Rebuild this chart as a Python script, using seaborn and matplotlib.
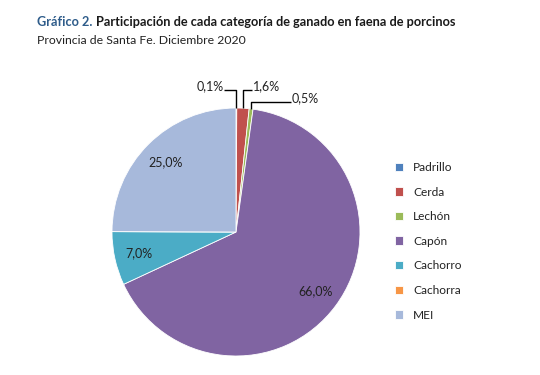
import numpy as np
import matplotlib
matplotlib.use("Agg")
import matplotlib.pyplot as plt
import seaborn as sns

categories = ["Padrillo", "Cerda", "Lechón", "Capón", "Cachorro", "Cachorra", "MEI"]
values = [0.1, 1.6, 0.5, 66.0, 7.0, 0.0, 25.0]
colors = ["#4F81BD", "#C0504D", "#9BBB59", "#8064A2", "#4BACC6", "#F79646", "#A7B9DB"]
title_prefix = "Gráfico 2."
title_rest = "Participación de cada categoría de ganado en faena de porcinos"
subtitle = "Provincia de Santa Fe. Diciembre 2020"

sns.set_theme(style="white")
plt.rcParams["font.family"] = ["Lato", "DejaVu Sans"]

fig = plt.figure(figsize=(5.4, 3.75), dpi=100)
fig.patch.set_facecolor("white")
ax = fig.add_axes([0, 0, 1, 1])

cx, cy, R = 236, 143, 124
wedges, _ = ax.pie(values, colors=colors, startangle=90, counterclock=False,
                   center=(cx, cy), radius=R, frame=True,
                   wedgeprops=dict(edgecolor="white", linewidth=0.6))
ax.set_xlim(0, 540)
ax.set_ylim(0, 375)
ax.set_aspect("equal")
ax.axis("off")

def fmt(v):
    return f"{v:.1f}".replace(".", ",") + "%"

# big slices: labels inside
for w, v in zip(wedges, values):
    if v >= 5:
        ang = np.deg2rad((w.theta1 + w.theta2) / 2)
        ax.text(cx + 0.8 * R * np.cos(ang), cy + 0.8 * R * np.sin(ang), fmt(v),
                ha="center", va="center", fontsize=9, color="#222222")

# small slices: leader lines
small = [(0, -12, 18, "left"), (1, 9, 18, "right"), (2, 40, 7, "right")]
for idx, dx, dy, side in small:
    w = wedges[idx]
    ang = np.deg2rad((w.theta1 + w.theta2) / 2)
    x0, y0 = cx + R * np.cos(ang), cy + R * np.sin(ang)
    x1, y1 = x0, y0 + dy
    x2 = x1 + dx
    ax.plot([x0, x1, x2], [y0, y1, y1], color="black", lw=1.0, solid_capstyle="butt")
    if side == "left":
        ax.text(x2 - 1, y1 + 4, fmt(values[idx]), ha="right", va="center", fontsize=9, color="#222222")
    else:
        ax.text(x2 + 1, y1 + 4, fmt(values[idx]), ha="left", va="center", fontsize=9, color="#222222")

leg = ax.legend(wedges, categories, loc="upper left", bbox_to_anchor=(395 / 540, 1 - 162 / 375),
                bbox_transform=fig.transFigure, frameon=False, fontsize=8.6,
                handlelength=0.7, handleheight=0.7, handletextpad=0.8, labelspacing=1.14,
                borderaxespad=0, borderpad=0)
for t in leg.get_texts():
    t.set_color("#222222")

t1 = fig.text(37 / 540, 1 - 22 / 375, title_prefix + " ", fontsize=9.2, fontweight="bold",
              color="#2E5C8A", ha="left", va="center")
fig.canvas.draw()
bb = t1.get_window_extent()
fig.text(bb.x1 / 540, 1 - 22 / 375, title_rest, fontsize=9.2, fontweight="bold",
         color="#1a1a1a", ha="left", va="center")
fig.text(37 / 540, 1 - 40 / 375, subtitle, fontsize=8.8, color="#222222", ha="left", va="center")

fig.savefig("out.png", dpi=100, facecolor="white")
